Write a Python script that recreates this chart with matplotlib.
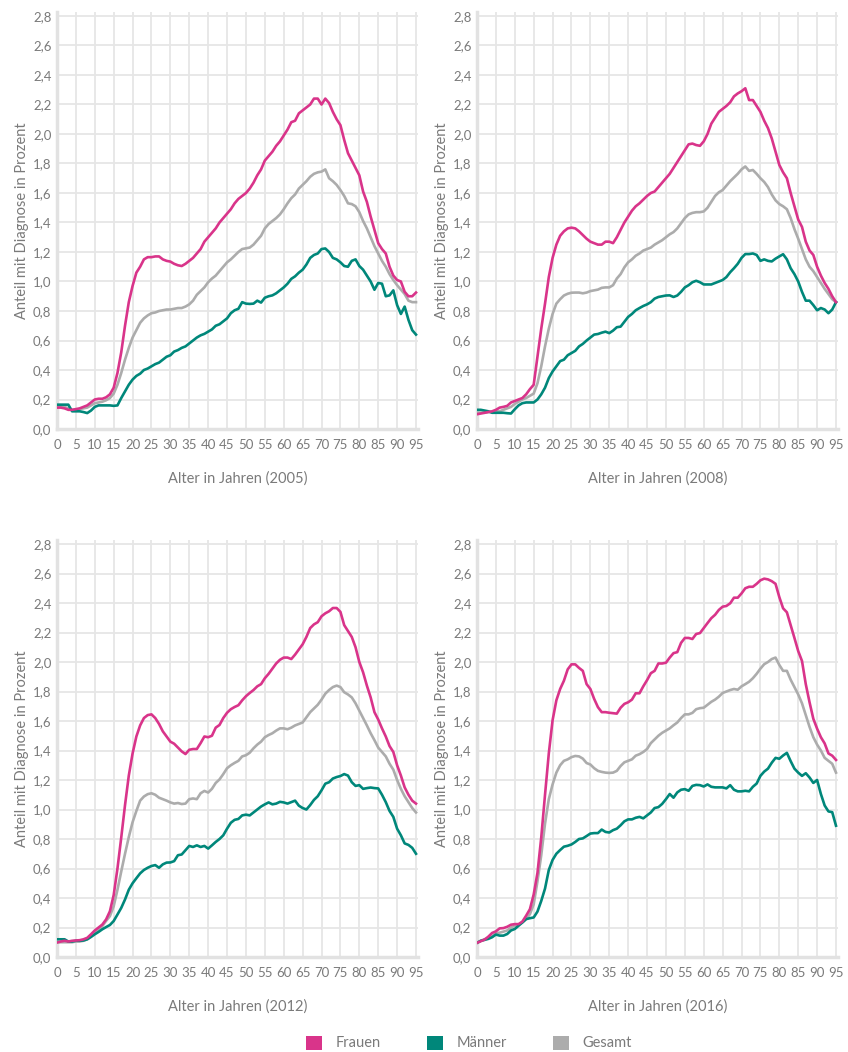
import matplotlib
matplotlib.use("Agg")
import matplotlib.pyplot as plt
from matplotlib.patches import Patch
from matplotlib.ticker import FuncFormatter

plt.rcParams['font.family'] = ['Lato', 'DejaVu Sans']

ages = list(range(0, 96))

# 2005
frauen_2005 = [0.145, 0.145, 0.14, 0.13, 0.13, 0.135, 0.14, 0.15, 0.16, 0.18,
               0.20, 0.205, 0.205, 0.215, 0.235, 0.28, 0.38, 0.52, 0.70, 0.86,
               0.97, 1.06, 1.10, 1.15, 1.165, 1.165, 1.17, 1.17, 1.15, 1.14,
               1.135, 1.12, 1.11, 1.105, 1.12, 1.14, 1.16, 1.19, 1.22, 1.27,
               1.30, 1.33, 1.36, 1.40, 1.43, 1.46, 1.49, 1.53, 1.56, 1.58,
               1.60, 1.63, 1.67, 1.72, 1.76, 1.82, 1.85, 1.88, 1.92, 1.95,
               1.99, 2.03, 2.08, 2.09, 2.14, 2.16, 2.18, 2.20, 2.24, 2.24,
               2.20, 2.24, 2.21, 2.15, 2.10, 2.06, 1.96, 1.87, 1.82, 1.77,
               1.72, 1.61, 1.54, 1.44, 1.35, 1.26, 1.22, 1.19, 1.10, 1.04,
               1.01, 1.00, 0.93, 0.90, 0.90, 0.925]
maenner_2005 = [0.165, 0.165, 0.165, 0.165, 0.12, 0.12, 0.12, 0.115, 0.108, 0.125,
                0.15, 0.16, 0.16, 0.16, 0.16, 0.157, 0.16, 0.21, 0.255, 0.30,
                0.335, 0.36, 0.375, 0.40, 0.41, 0.425, 0.44, 0.45, 0.47, 0.49,
                0.50, 0.525, 0.535, 0.55, 0.56, 0.58, 0.60, 0.62, 0.635, 0.645,
                0.66, 0.675, 0.70, 0.71, 0.73, 0.75, 0.785, 0.805, 0.815, 0.86,
                0.85, 0.848, 0.85, 0.87, 0.857, 0.89, 0.90, 0.906, 0.92, 0.94,
                0.96, 0.985, 1.018, 1.035, 1.06, 1.08, 1.115, 1.16, 1.18, 1.19,
                1.22, 1.224, 1.20, 1.16, 1.15, 1.13, 1.105, 1.10, 1.14, 1.15,
                1.105, 1.08, 1.04, 1.00, 0.944, 0.99, 0.985, 0.90, 0.906, 0.94,
                0.84, 0.78, 0.83, 0.74, 0.67, 0.64]
gesamt_2005 = [0.155, 0.155, 0.15, 0.14, 0.13, 0.13, 0.135, 0.14, 0.145, 0.16,
               0.175, 0.18, 0.185, 0.195, 0.21, 0.24, 0.30, 0.38, 0.47, 0.55,
               0.62, 0.67, 0.72, 0.75, 0.77, 0.785, 0.79, 0.80, 0.805, 0.81,
               0.81, 0.815, 0.82, 0.82, 0.83, 0.845, 0.87, 0.91, 0.935, 0.96,
               0.995, 1.02, 1.04, 1.07, 1.10, 1.13, 1.15, 1.175, 1.20, 1.22,
               1.225, 1.23, 1.25, 1.28, 1.31, 1.36, 1.39, 1.41, 1.43, 1.455,
               1.49, 1.53, 1.565, 1.59, 1.63, 1.655, 1.68, 1.71, 1.73, 1.74,
               1.745, 1.76, 1.70, 1.68, 1.655, 1.62, 1.58, 1.53, 1.525, 1.51,
               1.47, 1.41, 1.36, 1.30, 1.24, 1.19, 1.14, 1.10, 1.05, 1.01,
               0.975, 0.945, 0.915, 0.87, 0.86, 0.86]

# 2008
frauen_2008 = [0.10, 0.105, 0.11, 0.115, 0.12, 0.13, 0.145, 0.15, 0.157, 0.18,
               0.19, 0.20, 0.21, 0.235, 0.27, 0.30, 0.49, 0.68, 0.85, 1.03,
               1.16, 1.25, 1.31, 1.34, 1.36, 1.365, 1.36, 1.34, 1.315, 1.29,
               1.27, 1.26, 1.25, 1.25, 1.27, 1.27, 1.26, 1.30, 1.35, 1.40,
               1.44, 1.48, 1.51, 1.53, 1.555, 1.58, 1.60, 1.61, 1.64, 1.67,
               1.70, 1.73, 1.77, 1.81, 1.85, 1.89, 1.93, 1.935, 1.925, 1.92,
               1.95, 2.00, 2.07, 2.11, 2.15, 2.17, 2.19, 2.215, 2.255, 2.275,
               2.29, 2.31, 2.23, 2.23, 2.19, 2.15, 2.09, 2.04, 1.97, 1.88,
               1.79, 1.74, 1.70, 1.60, 1.51, 1.42, 1.37, 1.27, 1.21, 1.18,
               1.10, 1.04, 0.99, 0.95, 0.90, 0.86]
maenner_2008 = [0.13, 0.13, 0.125, 0.12, 0.11, 0.11, 0.11, 0.11, 0.107, 0.105,
                0.134, 0.16, 0.175, 0.18, 0.18, 0.18, 0.20, 0.235, 0.28, 0.345,
                0.39, 0.425, 0.46, 0.47, 0.50, 0.515, 0.53, 0.56, 0.577, 0.60,
                0.62, 0.64, 0.644, 0.653, 0.66, 0.65, 0.667, 0.69, 0.694, 0.727,
                0.76, 0.78, 0.805, 0.82, 0.834, 0.845, 0.86, 0.884, 0.895, 0.90,
                0.905, 0.906, 0.895, 0.905, 0.93, 0.96, 0.975, 0.995, 1.005, 0.995,
                0.98, 0.98, 0.98, 0.99, 1.00, 1.01, 1.03, 1.063, 1.09, 1.12,
                1.16, 1.186, 1.186, 1.19, 1.18, 1.14, 1.15, 1.14, 1.136, 1.155,
                1.17, 1.185, 1.15, 1.09, 1.05, 1.00, 0.93, 0.87, 0.87, 0.84,
                0.805, 0.82, 0.81, 0.785, 0.81, 0.86]
gesamt_2008 = [0.11, 0.11, 0.11, 0.115, 0.115, 0.12, 0.12, 0.13, 0.14, 0.15,
               0.17, 0.185, 0.20, 0.21, 0.225, 0.24, 0.31, 0.425, 0.56, 0.68,
               0.78, 0.85, 0.88, 0.905, 0.917, 0.924, 0.925, 0.925, 0.92, 0.925,
               0.935, 0.94, 0.945, 0.957, 0.96, 0.96, 0.975, 1.02, 1.05, 1.096,
               1.13, 1.15, 1.175, 1.19, 1.21, 1.22, 1.23, 1.25, 1.265, 1.28,
               1.30, 1.32, 1.335, 1.36, 1.395, 1.43, 1.455, 1.465, 1.47, 1.47,
               1.475, 1.50, 1.54, 1.58, 1.605, 1.62, 1.65, 1.68, 1.705, 1.73,
               1.76, 1.78, 1.75, 1.756, 1.73, 1.70, 1.675, 1.64, 1.59, 1.55,
               1.525, 1.51, 1.49, 1.43, 1.355, 1.29, 1.22, 1.15, 1.10, 1.07,
               1.03, 0.99, 0.95, 0.915, 0.88, 0.86]

# 2012
frauen_2012 = [0.098, 0.105, 0.11, 0.105, 0.11, 0.112, 0.114, 0.12, 0.13, 0.154,
               0.18, 0.20, 0.22, 0.255, 0.31, 0.42, 0.60, 0.81, 1.03, 1.23,
               1.38, 1.495, 1.57, 1.62, 1.64, 1.645, 1.62, 1.58, 1.53, 1.495,
               1.46, 1.446, 1.42, 1.394, 1.376, 1.405, 1.41, 1.41, 1.45, 1.495,
               1.49, 1.50, 1.555, 1.573, 1.62, 1.656, 1.68, 1.695, 1.707, 1.74,
               1.768, 1.79, 1.81, 1.835, 1.85, 1.89, 1.92, 1.955, 1.99, 2.015,
               2.03, 2.03, 2.02, 2.05, 2.085, 2.12, 2.17, 2.23, 2.255, 2.27,
               2.31, 2.33, 2.344, 2.366, 2.366, 2.34, 2.25, 2.21, 2.17, 2.10,
               2.00, 1.93, 1.84, 1.76, 1.66, 1.61, 1.55, 1.495, 1.43, 1.39,
               1.30, 1.23, 1.15, 1.10, 1.06, 1.04]
maenner_2012 = [0.12, 0.12, 0.12, 0.105, 0.105, 0.11, 0.11, 0.112, 0.12, 0.136,
                0.154, 0.17, 0.188, 0.203, 0.217, 0.244, 0.288, 0.333, 0.39, 0.456,
                0.50, 0.534, 0.567, 0.59, 0.605, 0.617, 0.623, 0.605, 0.628, 0.64,
                0.641, 0.65, 0.69, 0.695, 0.724, 0.753, 0.746, 0.757, 0.746, 0.753,
                0.735, 0.757, 0.78, 0.80, 0.825, 0.87, 0.91, 0.93, 0.936, 0.96,
                0.965, 0.96, 0.98, 1.00, 1.02, 1.035, 1.048, 1.035, 1.04, 1.052,
                1.048, 1.04, 1.05, 1.06, 1.026, 1.01, 1.00, 1.03, 1.065, 1.09,
                1.13, 1.175, 1.185, 1.21, 1.22, 1.227, 1.24, 1.23, 1.185, 1.16,
                1.165, 1.14, 1.145, 1.149, 1.145, 1.143, 1.10, 1.05, 0.99, 0.95,
                0.87, 0.825, 0.77, 0.76, 0.74, 0.70]
gesamt_2012 = [0.10, 0.10, 0.10, 0.10, 0.10, 0.105, 0.105, 0.11, 0.12, 0.14,
               0.165, 0.18, 0.21, 0.245, 0.277, 0.344, 0.456, 0.58, 0.70, 0.813,
               0.914, 0.99, 1.06, 1.088, 1.104, 1.11, 1.10, 1.08, 1.07, 1.06,
               1.048, 1.04, 1.044, 1.037, 1.04, 1.07, 1.075, 1.07, 1.11, 1.126,
               1.115, 1.14, 1.18, 1.204, 1.24, 1.28, 1.30, 1.316, 1.33, 1.36,
               1.368, 1.385, 1.415, 1.44, 1.46, 1.49, 1.505, 1.517, 1.535, 1.55,
               1.55, 1.544, 1.555, 1.57, 1.58, 1.59, 1.625, 1.66, 1.685, 1.71,
               1.745, 1.785, 1.81, 1.83, 1.84, 1.83, 1.795, 1.78, 1.76, 1.72,
               1.67, 1.62, 1.57, 1.517, 1.47, 1.42, 1.39, 1.36, 1.31, 1.27,
               1.20, 1.14, 1.09, 1.05, 1.01, 0.98]

# 2016
frauen_2016 = [0.096, 0.107, 0.118, 0.138, 0.163, 0.174, 0.194, 0.196, 0.205, 0.219,
               0.223, 0.223, 0.24, 0.28, 0.324, 0.424, 0.57, 0.81, 1.10, 1.38,
               1.605, 1.74, 1.817, 1.873, 1.95, 1.984, 1.984, 1.96, 1.94, 1.85,
               1.817, 1.75, 1.694, 1.66, 1.66, 1.656, 1.653, 1.65, 1.69, 1.716,
               1.727, 1.745, 1.788, 1.788, 1.835, 1.877, 1.924, 1.94, 1.99, 1.99,
               1.995, 2.03, 2.06, 2.067, 2.13, 2.163, 2.163, 2.156, 2.19, 2.196,
               2.23, 2.264, 2.297, 2.32, 2.353, 2.375, 2.38, 2.398, 2.436, 2.436,
               2.465, 2.50, 2.51, 2.51, 2.53, 2.554, 2.565, 2.56, 2.548, 2.53,
               2.44, 2.364, 2.337, 2.25, 2.163, 2.074, 2.007, 1.85, 1.727, 1.615,
               1.548, 1.49, 1.448, 1.38, 1.365, 1.336]
maenner_2016 = [0.096, 0.11, 0.116, 0.123, 0.134, 0.152, 0.145, 0.145, 0.156, 0.18,
                0.19, 0.212, 0.234, 0.257, 0.263, 0.268, 0.308, 0.38, 0.464, 0.59,
                0.658, 0.70, 0.725, 0.748, 0.754, 0.763, 0.78, 0.80, 0.804, 0.82,
                0.837, 0.84, 0.84, 0.864, 0.848, 0.844, 0.86, 0.87, 0.893, 0.92,
                0.933, 0.933, 0.944, 0.95, 0.94, 0.96, 0.98, 1.01, 1.016, 1.038,
                1.07, 1.105, 1.08, 1.116, 1.134, 1.138, 1.127, 1.16, 1.167, 1.165,
                1.156, 1.17, 1.154, 1.15, 1.15, 1.15, 1.143, 1.165, 1.134, 1.123,
                1.123, 1.127, 1.123, 1.154, 1.176, 1.228, 1.257, 1.277, 1.317, 1.35,
                1.344, 1.366, 1.384, 1.328, 1.277, 1.25, 1.228, 1.246, 1.217, 1.18,
                1.20, 1.105, 1.027, 0.987, 0.982, 0.89]
gesamt_2016 = [0.096, 0.11, 0.12, 0.13, 0.14, 0.16, 0.165, 0.172, 0.18, 0.20,
               0.212, 0.22, 0.234, 0.257, 0.29, 0.357, 0.513, 0.69, 0.904, 1.07,
               1.17, 1.25, 1.30, 1.33, 1.34, 1.355, 1.363, 1.36, 1.345, 1.315,
               1.305, 1.28, 1.262, 1.255, 1.25, 1.248, 1.25, 1.262, 1.295, 1.32,
               1.33, 1.34, 1.365, 1.375, 1.39, 1.41, 1.45, 1.475, 1.50, 1.52,
               1.535, 1.55, 1.571, 1.59, 1.62, 1.645, 1.645, 1.655, 1.68, 1.687,
               1.69, 1.71, 1.73, 1.745, 1.765, 1.79, 1.80, 1.81, 1.817, 1.812,
               1.835, 1.85, 1.866, 1.89, 1.92, 1.955, 1.985, 2.00, 2.02, 2.03,
               1.98, 1.94, 1.94, 1.88, 1.83, 1.78, 1.72, 1.64, 1.56, 1.49,
               1.44, 1.40, 1.35, 1.33, 1.31, 1.25]

years = ['2005', '2008', '2012', '2016']
frauen = [frauen_2005, frauen_2008, frauen_2012, frauen_2016]
maenner = [maenner_2005, maenner_2008, maenner_2012, maenner_2016]
gesamt = [gesamt_2005, gesamt_2008, gesamt_2012, gesamt_2016]

series_names = ['Frauen', 'Männer', 'Gesamt']
pink = '#d9348a'
teal = '#00877a'
grey = '#acacac'
text_grey = '#7a7a7a'

W, H = 848, 1052
fig = plt.figure(figsize=(W / 100, H / 100), dpi=100)

# axes boxes in pixels: left, top of 2,8 gridline, bottom (y=0)
boxes = [(57, 16, 429), (477, 16, 429), (57, 544, 957), (477, 544, 957)]
px_per_year = 359 / 95
ymax = 2.83
xmax = 95.6

comma = FuncFormatter(lambda v, p: f'{v:.1f}'.replace('.', ','))

for i, (left, top, bottom) in enumerate(boxes):
    h_px = (bottom - top) * ymax / 2.8
    w_px = px_per_year * xmax
    ax = fig.add_axes([left / W, (H - bottom) / H, w_px / W, h_px / H])

    ax.plot(ages, gesamt[i], color=grey, lw=1.9, zorder=3)
    ax.plot(ages, maenner[i], color=teal, lw=1.9, zorder=4)
    ax.plot(ages, frauen[i], color=pink, lw=1.9, zorder=5)

    ax.set_xlim(0, xmax)
    ax.set_ylim(0, ymax)
    ax.set_xticks(range(0, 96, 5))
    ax.set_yticks([k / 10 for k in range(0, 29, 2)])
    ax.yaxis.set_major_formatter(comma)
    ax.grid(True, color='#e6e6e6', lw=1.3, zorder=0)
    ax.set_axisbelow(True)
    for side in ['top', 'right']:
        ax.spines[side].set_visible(False)
    for side in ['left', 'bottom']:
        ax.spines[side].set_color('#e2e2e2')
        ax.spines[side].set_linewidth(2.5)
    ax.tick_params(axis='x', length=0, pad=7, labelsize=9.5, labelcolor=text_grey)
    ax.tick_params(axis='y', length=0, pad=4, labelsize=9.5, labelcolor=text_grey)
    ax.set_xlabel(f'Alter in Jahren ({years[i]})', fontsize=10.5,
                  color=text_grey, labelpad=15)
    ax.set_ylabel('Anteil mit Diagnose in Prozent', fontsize=10.5,
                  color=text_grey, labelpad=3)

handles = [Patch(facecolor=c, edgecolor='none') for c in (pink, teal, grey)]
fig.legend(handles, series_names, loc='center', ncol=3,
           bbox_to_anchor=(469 / W, 9 / H), frameon=False,
           fontsize=10.5, labelcolor=text_grey, handlelength=1.1,
           handleheight=1.1, handletextpad=0.9, columnspacing=3.2)

fig.savefig('out.png', dpi=100)
